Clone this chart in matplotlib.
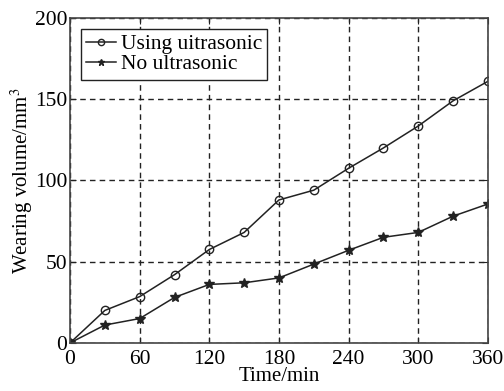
import numpy as np
import matplotlib.pyplot as plt

plt.rcParams['font.family'] = ['Liberation Serif', 'DejaVu Serif']
plt.rcParams['mathtext.fontset'] = 'stix'

# Data
time_min = [0, 30, 60, 90, 120, 150, 180, 210, 240, 270, 300, 330, 360]
using_ultrasonic = [0, 20, 28.5, 42, 57.5, 68, 88, 94, 107.5, 120, 133.5, 149, 161]
no_ultrasonic = [0, 11, 15, 28, 36, 37, 40, 48.5, 57, 65, 68, 78, 85.5]

x_ticks = [0, 60, 120, 180, 240, 300, 360]
y_ticks = [0, 50, 100, 150, 200]

fig = plt.figure(figsize=(5.04, 3.91), dpi=100)
ax = fig.add_axes([0.139, 0.123, 0.829, 0.831])

ax.plot(time_min, using_ultrasonic, color='#222222', lw=1.1, marker='o',
        markersize=6, markerfacecolor='none', markeredgecolor='#222222',
        label='Using uitrasonic')
ax.plot(time_min, no_ultrasonic, color='#222222', lw=1.1, marker='*',
        markersize=7, markerfacecolor='#222222', label='No ultrasonic')

ax.set_xlim(0, 360)
ax.set_ylim(0, 200)
ax.set_xticks(x_ticks)
ax.set_yticks(y_ticks)
ax.grid(True, color='#222222', linestyle=(0, (4, 3)), lw=1.0)
ax.tick_params(direction='in', top=True, right=True, labelsize=15.5, pad=2,
               length=4, color='#222222')
ax.tick_params(axis='x', pad=5)
for s in ax.spines.values():
    s.set_color('#444444')
    s.set_linewidth(1.2)

ax.set_xlabel('Time/min', fontsize=15, labelpad=-1)
ax.set_ylabel('Wearing volume/mm$^3$', fontsize=15, labelpad=0)

leg = ax.legend(loc='upper left', fontsize=15.5, handlelength=1.4,
                handletextpad=0.2, borderpad=0.25, labelspacing=0.0,
                borderaxespad=0.5, fancybox=False, framealpha=1,
                edgecolor='#222222')
leg.get_frame().set_linewidth(1.0)
for h in leg.legend_handles:
    h.set_markersize(4.5)

plt.savefig('out.png', dpi=100)
